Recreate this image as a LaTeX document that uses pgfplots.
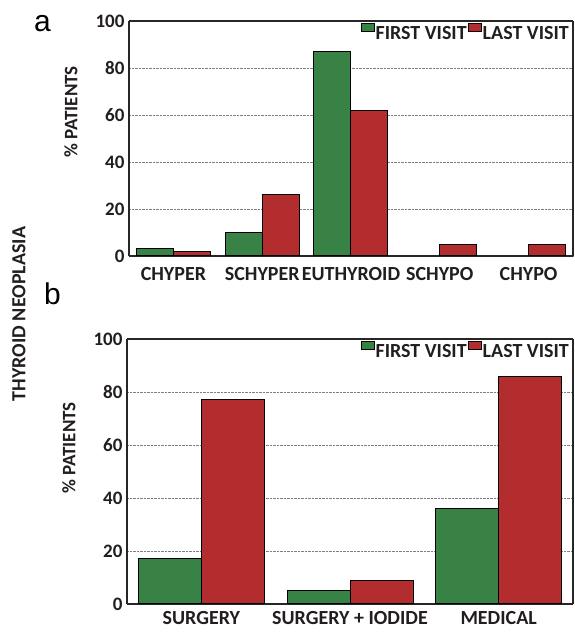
\documentclass[border=0pt]{standalone}
\usepackage{pgfplots}
\pgfplotsset{compat=1.18}
\usepackage{fontspec}
\setmainfont{Carlito}
\newfontfamily\arialfont{Liberation Sans}
\definecolor{barg}{RGB}{55,130,68}
\definecolor{barr}{RGB}{180,45,46}
\definecolor{txt}{RGB}{35,30,30}

\pgfplotsset{
 myaxis/.style={
  scale only axis,
  separate axis lines,
  ybar=0pt,
  ymin=0, ymax=100,
  ytick={0,20,...,100},
  xtick=data,
  major tick length=0pt,
  ymajorgrids,
  grid style={densely dotted, gray, line width=0.9pt},
  axis line style={black!85, line width=1.3pt},
  /pgf/number format/assume math mode=true,
  yticklabel style={font=\fontsize{19}{19}\selectfont\bfseries, text=txt, xshift=-1pt},
  xticklabel style={font=\fontsize{20}{20}\selectfont\bfseries, text=txt, inner sep=1pt},
  ylabel={\% PATIENTS},
  ylabel style={font=\fontsize{19}{19}\selectfont\bfseries, text=txt, anchor=center},
  legend style={draw=none, fill=none, at={(1,1)}, anchor=north east,
    legend columns=-1, font=\fontsize{20}{20}\selectfont\bfseries, text=txt,
    nodes={inner sep=1pt}, /tikz/every even column/.append style={column sep=0pt}},
 },
 leg/.style={legend image code/.code={\draw[##1, line width=1pt] (0pt,2pt) rectangle (13pt,10pt);}},
}

\begin{document}
\begin{tikzpicture}
\useasboundingbox (0pt,0pt) rectangle (574pt,632pt);

\node[anchor=base west, inner sep=0, font=\arialfont\fontsize{30}{30}\selectfont] at (34pt,600pt) {a};
\node[anchor=base west, inner sep=0, font=\arialfont\fontsize{30}{30}\selectfont] at (44pt,327pt) {b};
\node[rotate=90, inner sep=0, font=\fontsize{20}{20}\selectfont\bfseries, text=txt] at (19pt,318pt) {THYROID NEOPLASIA};

\begin{axis}[myaxis, at={(129pt,376pt)}, anchor=south west, width=444pt, height=235pt,
  bar width=37pt, xmin=-0.5, xmax=4.5,
  xtick={0,1,2,3,4},
  xticklabels={CHYPER, SCHYPER, EUTHYROID, SCHYPO, CHYPO},
  xticklabel style={yshift=-10pt},
  ylabel style={at={(axis description cs:-0.131,0.613)}}]
\addplot[fill=barg, draw=black, line width=1pt, leg] coordinates {(0,3) (1,10) (2,87)};
\addplot[fill=barr, draw=black, line width=1pt, leg] coordinates {(0,2) (1,26) (2,62) (3,5) (4,5)};
\legend{FIRST VISIT, LAST VISIT}
\end{axis}

\begin{axis}[myaxis, at={(127pt,28pt)}, anchor=south west, width=446pt, height=265pt,
  bar width=63pt, xmin=-0.5, xmax=2.5,
  xtick={0,1,2},
  xticklabels={SURGERY, SURGERY + IODIDE, MEDICAL},
  xticklabel style={yshift=-6pt},
  ylabel style={at={(axis description cs:-0.13,0.589)}}]
\addplot[fill=barg, draw=black, line width=1pt, leg] coordinates {(0,17) (1,5) (2,36)};
\addplot[fill=barr, draw=black, line width=1pt, leg] coordinates {(0,77) (1,9) (2,86)};
\legend{FIRST VISIT, LAST VISIT}
\end{axis}
\end{tikzpicture}
\end{document}
